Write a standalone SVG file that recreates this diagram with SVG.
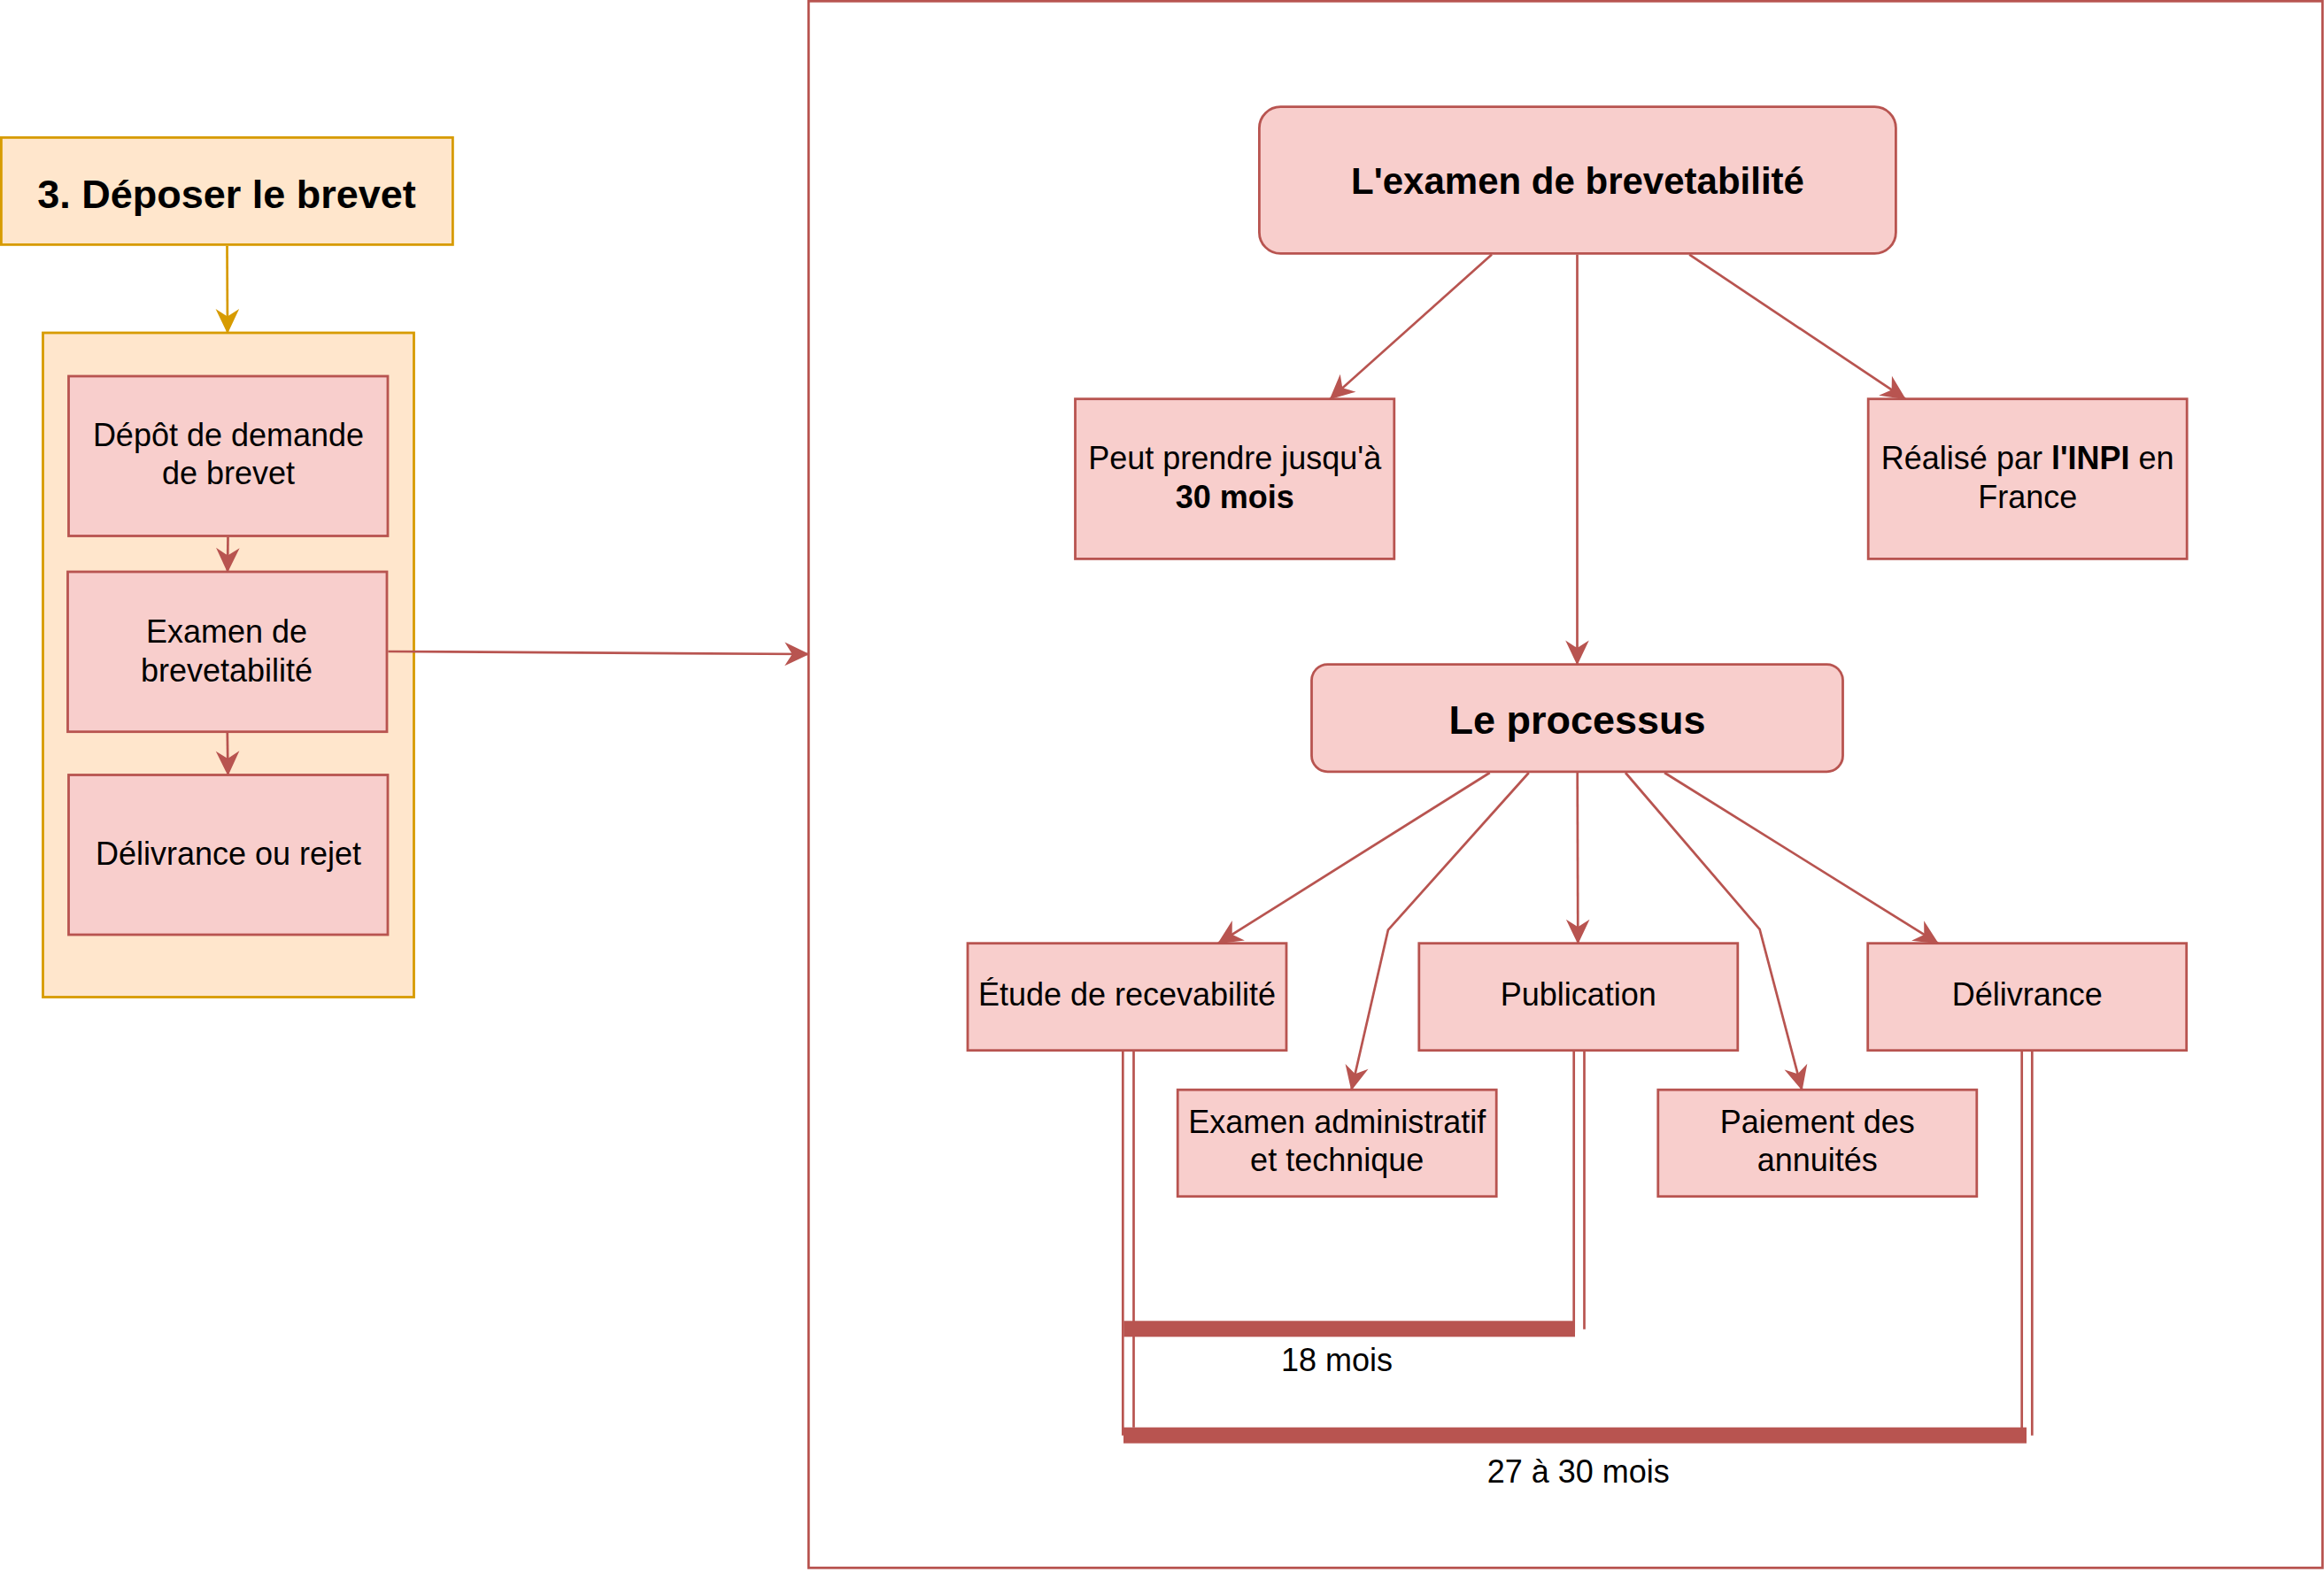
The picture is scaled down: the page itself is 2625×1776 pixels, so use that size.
<svg xmlns="http://www.w3.org/2000/svg" width="2625" height="1776" viewBox="0 0 2625 1776">
<style>
text { font-family: "Liberation Sans", Arial, sans-serif; fill: #000; text-anchor: middle; }
.t36 { font-size: 36px; }
.b { font-weight: bold; }
.red { fill: #f8cecc; stroke: #b85450; stroke-width: 2.8; }
.org { fill: #ffe6cc; stroke: #d79b00; stroke-width: 2.8; }
.frame { fill: none; stroke: #b85450; stroke-width: 2.8; }
.edge { fill: none; stroke: #b85450; stroke-width: 2.7; }
.edgeo { fill: none; stroke: #d79b00; stroke-width: 2.7; }
.bar { fill: #b85450; }
</style>
<defs>
<marker id="ar" markerUnits="userSpaceOnUse" markerWidth="32" markerHeight="32" viewBox="-29 -16 32 32" refX="0" refY="0" orient="auto">
<path d="M1,0 L-27,-13.3 L-18.5,0 L-27,13.3 Z" fill="#b85450"/>
</marker>
<marker id="ao" markerUnits="userSpaceOnUse" markerWidth="32" markerHeight="32" viewBox="-29 -16 32 32" refX="0" refY="0" orient="auto">
<path d="M1,0 L-27,-13.3 L-18.5,0 L-27,13.3 Z" fill="#d79b00"/>
</marker>
</defs>
<rect x="0" y="0" width="2625" height="1776" fill="#ffffff"/>

<g id="frame">
<rect class="frame" x="913.3" y="1.3" width="1710" height="1770" fill="#ffffff"/>
</g>

<g id="title">
<rect class="org" x="1.4" y="155.4" width="510" height="121"/>
<text class="b" x="256" y="234.5" font-size="45">3. Déposer le brevet</text>
</g>

<g id="container">
<rect class="org" x="48.5" y="376" width="419" height="750.5"/>
</g>

<g id="depot">
<rect class="red" x="77.5" y="425" width="360.5" height="180.5"/>
<text class="t36" x="258" y="503.7">Dépôt de demande</text>
<text class="t36" x="258" y="547">de brevet</text>
</g>

<g id="examen">
<rect class="red" x="76.5" y="646" width="360.5" height="180.7"/>
<text class="t36" x="256" y="725.5">Examen de</text>
<text class="t36" x="256" y="769.5">brevetabilité</text>
</g>

<g id="delivrance-rejet">
<rect class="red" x="77.5" y="875.5" width="360.5" height="180.5"/>
<text class="t36" x="258" y="976.8">Délivrance ou rejet</text>
</g>

<g id="lexamen">
<rect class="red" x="1422.4" y="120.7" width="719" height="165.7" rx="24" ry="24"/>
<text class="b" x="1782" y="218.5" font-size="42">L'examen de brevetabilité</text>
</g>

<g id="peut-prendre">
<rect class="red" x="1214.5" y="450.7" width="360.3" height="180.7"/>
<text class="t36" x="1394.7" y="530">Peut prendre jusqu'à</text>
<text class="t36 b" x="1394.7" y="573.5">30 mois</text>
</g>

<g id="realise">
<rect class="red" x="2110.2" y="450.7" width="360" height="180.7"/>
<text class="t36" x="2290.2" y="530">Réalisé par <tspan class="b">l'INPI</tspan> en</text>
<text class="t36" x="2290.2" y="573.5">France</text>
</g>

<g id="processus">
<rect class="red" x="1481.5" y="750.6" width="600" height="121.2" rx="18" ry="18"/>
<text class="b" x="1781.5" y="828.5" font-size="45">Le processus</text>
</g>

<g id="etude">
<rect class="red" x="1093" y="1065.7" width="360" height="121"/>
<text class="t36" x="1273" y="1136.3">Étude de recevabilité</text>
</g>

<g id="publication">
<rect class="red" x="1602.8" y="1065.7" width="360" height="121"/>
<text class="t36" x="1782.8" y="1136.3">Publication</text>
</g>

<g id="delivrance">
<rect class="red" x="2109.7" y="1065.7" width="360" height="121"/>
<text class="t36" x="2289.7" y="1136.3">Délivrance</text>
</g>

<g id="examen-admin">
<rect class="red" x="1330.2" y="1231.2" width="360" height="120.5"/>
<text class="t36" x="1510.2" y="1280">Examen administratif</text>
<text class="t36" x="1510.2" y="1323.2">et technique</text>
</g>

<g id="paiement">
<rect class="red" x="1872.8" y="1231.2" width="360" height="120.5"/>
<text class="t36" x="2052.8" y="1280">Paiement des</text>
<text class="t36" x="2052.8" y="1323.2">annuités</text>
</g>

<g id="connectors">
<line class="edgeo" x1="256.5" y1="277.8" x2="257" y2="376" marker-end="url(#ao)"/>
<line class="edge" x1="257.5" y1="606.8" x2="257" y2="646" marker-end="url(#ar)"/>
<line class="edge" x1="256.8" y1="828" x2="257.5" y2="875.5" marker-end="url(#ar)"/>
<line class="edge" x1="438.4" y1="736" x2="913.3" y2="739" marker-end="url(#ar)"/>

<line class="edge" x1="1685" y1="287.6" x2="1502.5" y2="450.7" marker-end="url(#ar)"/>
<line class="edge" x1="1781.5" y1="287.6" x2="1781.5" y2="750.6" marker-end="url(#ar)"/>
<line class="edge" x1="1908.2" y1="287.6" x2="2152" y2="450.7" marker-end="url(#ar)"/>

<line class="edge" x1="1682.7" y1="873" x2="1376" y2="1065.7" marker-end="url(#ar)"/>
<polyline class="edge" points="1726.8,873 1567.9,1050.6 1526.5,1231.2" marker-end="url(#ar)"/>
<line class="edge" x1="1781.7" y1="873" x2="1782.3" y2="1065.7" marker-end="url(#ar)"/>
<polyline class="edge" points="1836,873 1987.6,1049.8 2035.3,1231.2" marker-end="url(#ar)"/>
<line class="edge" x1="1880.1" y1="873" x2="2189" y2="1065.7" marker-end="url(#ar)"/>

<line class="edge" x1="1268.3" y1="1188" x2="1268.3" y2="1621.7"/>
<line class="edge" x1="1280.5" y1="1188" x2="1280.5" y2="1612.7"/>
<line class="edge" x1="1777.7" y1="1188" x2="1777.7" y2="1505"/>
<line class="edge" x1="1789.5" y1="1188" x2="1789.5" y2="1501.7"/>
<line class="edge" x1="2283.7" y1="1188" x2="2283.7" y2="1621.7"/>
<line class="edge" x1="2295.3" y1="1188" x2="2295.3" y2="1621.7"/>

<rect class="bar" x="1269.3" y="1492.3" width="509.7" height="18"/>
<rect class="bar" x="1269" y="1612.6" width="1020" height="18"/>
</g>

<g id="label-18">
<text class="t36" x="1510" y="1549">18 mois</text>
</g>
<g id="label-27">
<text class="t36" x="1782.8" y="1675">27 à 30 mois</text>
</g>
</svg>
